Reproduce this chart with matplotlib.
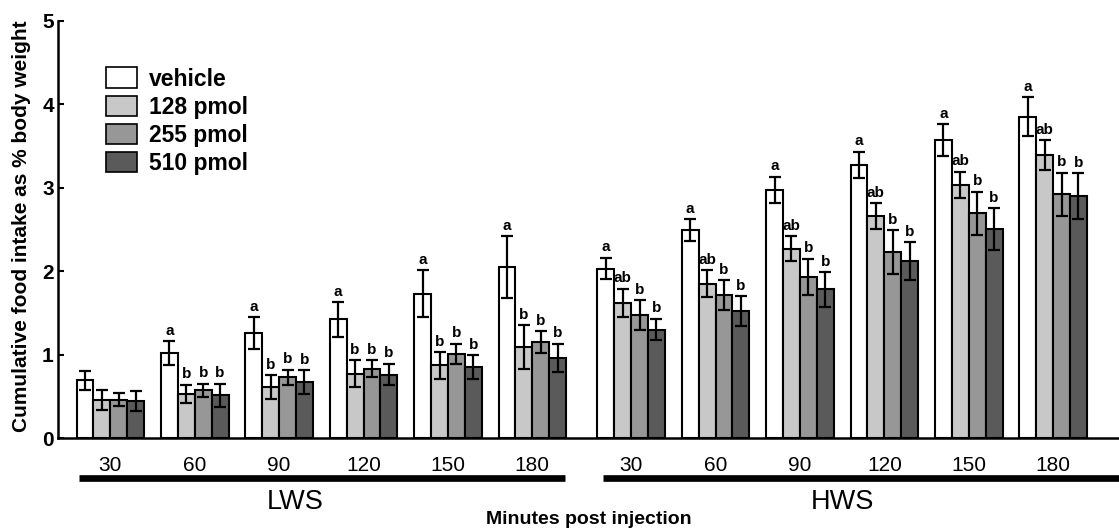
import numpy as np
import matplotlib
matplotlib.use('Agg')
import matplotlib.pyplot as plt
import matplotlib.transforms as mtransforms
from matplotlib.patches import Patch

plt.rcParams['font.family'] = ['Liberation Sans', 'DejaVu Sans']

# minutes post injection
times = ['30', '60', '90', '120', '150', '180']
doses = ['vehicle', '128 pmol', '255 pmol', '510 pmol']
colors = ['#ffffff', '#c8c8c8', '#979797', '#5a5a5a']

# LWS means / SEM (rows = dose, cols = time)
lws_mean = [[0.69, 1.02, 1.26, 1.42, 1.73, 2.05],
            [0.45, 0.53, 0.61, 0.77, 0.87, 1.09],
            [0.46, 0.57, 0.73, 0.83, 1.01, 1.15],
            [0.44, 0.51, 0.67, 0.76, 0.85, 0.96]]
lws_err = [[0.11, 0.14, 0.19, 0.21, 0.28, 0.37],
           [0.12, 0.11, 0.14, 0.16, 0.16, 0.26],
           [0.08, 0.08, 0.09, 0.10, 0.12, 0.13],
           [0.12, 0.14, 0.14, 0.13, 0.14, 0.17]]
lws_lab = [['', 'a', 'a', 'a', 'a', 'a'],
           ['', 'b', 'b', 'b', 'b', 'b'],
           ['', 'b', 'b', 'b', 'b', 'b'],
           ['', 'b', 'b', 'b', 'b', 'b']]

# HWS means / SEM
hws_mean = [[2.03, 2.49, 2.97, 3.27, 3.57, 3.85],
            [1.62, 1.85, 2.27, 2.66, 3.03, 3.39],
            [1.47, 1.71, 1.93, 2.23, 2.69, 2.92],
            [1.30, 1.52, 1.78, 2.12, 2.50, 2.90]]
hws_err = [[0.13, 0.13, 0.16, 0.16, 0.19, 0.23],
           [0.17, 0.16, 0.15, 0.15, 0.16, 0.18],
           [0.18, 0.18, 0.22, 0.26, 0.26, 0.26],
           [0.13, 0.18, 0.21, 0.23, 0.25, 0.27]]
hws_lab = [['a'] * 6, ['ab'] * 6, ['b'] * 6, ['b'] * 6]

fig = plt.figure(figsize=(11.19, 5.31), dpi=100)
ax = fig.add_axes([58 / 1119, 93 / 531, 1 - 58 / 1119, (438 - 20.7) / 531])

w = 0.2
lws_x = np.arange(6)
hws_x = np.arange(6) + 6.17

for x0, means, errs, labs in [(lws_x, lws_mean, lws_err, lws_lab),
                              (hws_x, hws_mean, hws_err, hws_lab)]:
    for j in range(4):
        xs = x0 + (j - 1.5) * w
        ax.bar(xs, means[j], w, color=colors[j], edgecolor='black', linewidth=1.5,
               yerr=errs[j], error_kw=dict(ecolor='black', elinewidth=1.6, capsize=4, capthick=1.6),
               zorder=2)
        for k in range(6):
            if labs[j][k]:
                ax.text(xs[k], means[j][k] + errs[j][k] + 0.04, labs[j][k], ha='center', va='bottom',
                        fontsize=11, fontweight='bold')

ax.set_xlim(-0.62, 11.95)
ax.set_ylim(0, 5)
ax.set_yticks([0, 1, 2, 3, 4, 5])
ax.tick_params(axis='y', direction='in', length=4, width=1.5, labelsize=15, pad=3)
for t in ax.get_yticklabels():
    t.set_fontweight('bold')
ax.set_xticks(list(lws_x) + list(hws_x))
ax.set_xticklabels(times + times, fontsize=15)
ax.tick_params(axis='x', length=0, pad=13)
for s in ['top', 'right']:
    ax.spines[s].set_visible(False)
ax.spines['left'].set_linewidth(1.8)
ax.spines['bottom'].set_linewidth(1.8)

# group bars under the tick labels
trans = mtransforms.blended_transform_factory(ax.transData, ax.transAxes)
ax.plot([-0.372, 5.386], [-0.097, -0.097], color='black', lw=4.8, transform=trans, clip_on=False,
        solid_capstyle='butt')
ax.plot([5.836, 12.2], [-0.097, -0.097], color='black', lw=4.8, transform=trans, clip_on=False,
        solid_capstyle='butt')
ax.text(2.19, -0.153, 'LWS', transform=trans, ha='center', va='center', fontsize=19.5)
ax.text(8.67, -0.153, 'HWS', transform=trans, ha='center', va='center', fontsize=19.5)

fig.text(589 / 1119, 1 - 520 / 531, 'Minutes post injection', ha='center', va='center',
         fontsize=14, fontweight='bold')
fig.text(22 / 1119, 1 - 226 / 531, 'Cumulative food intake as % body weight', rotation=90,
         ha='center', va='center', fontsize=15, fontweight='bold')

handles = [Patch(facecolor=c, edgecolor='black', linewidth=1.2) for c in colors]
ax.legend(handles, doses, loc='upper left', bbox_to_anchor=(0.037, 0.91), frameon=False,
          handlelength=1.35, handleheight=1.0, handletextpad=0.5, labelspacing=0.22,
          borderaxespad=0, prop={'weight': 'bold', 'size': 16.5})

fig.savefig('out.png', dpi=100)
